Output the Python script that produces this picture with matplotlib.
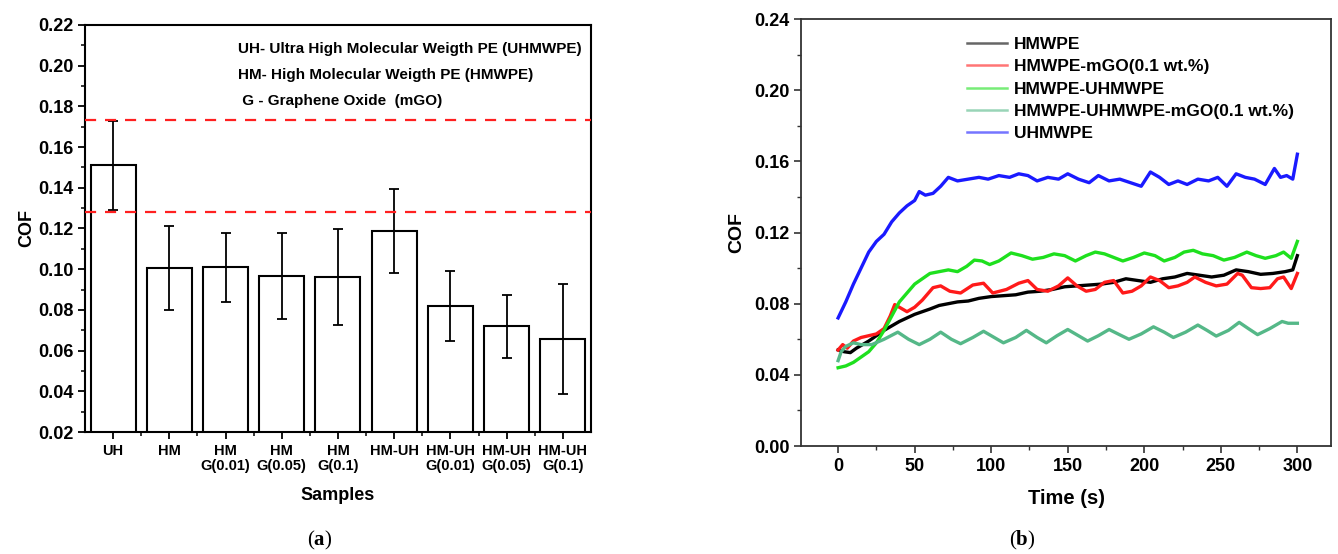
"""COF bar chart (a) and COF vs time curves (b) for PE blends."""

import matplotlib
matplotlib.use('Agg')
import matplotlib.pyplot as plt
from matplotlib.ticker import MultipleLocator, FixedLocator

plt.rcParams['font.family'] = ['Liberation Sans', 'DejaVu Sans']
plt.rcParams['font.weight'] = 'bold'
plt.rcParams['mathtext.fontset'] = 'custom'
plt.rcParams['mathtext.rm'] = 'Liberation Serif'
plt.rcParams['mathtext.bf'] = 'Liberation Serif:bold'

# ---- panel (a): mean COF per sample ----
samples = ['UH', 'HM', 'HM\nG(0.01)', 'HM\nG(0.05)', 'HM\nG(0.1)', 'HM-UH',
           'HM-UH\nG(0.01)', 'HM-UH\nG(0.05)', 'HM-UH\nG(0.1)']
cof_mean = [0.151, 0.1006, 0.101, 0.0966, 0.0961, 0.1187, 0.082, 0.072, 0.0657]
cof_err = [0.022, 0.0205, 0.0169, 0.0213, 0.0237, 0.0208, 0.0172, 0.0154, 0.0269]
ref_lines = [0.1735, 0.1283]
notes = ['UH- Ultra High Molecular Weigth PE (UHMWPE)',
         'HM- High Molecular Weigth PE (HMWPE)',
         ' G - Graphene Oxide  (mGO)']
note_y = [0.2082, 0.1953, 0.1827]

# ---- panel (b): COF vs time ----
t_black = [0, 4, 8, 12, 16, 20, 25, 30, 35, 40, 45, 50, 55, 60, 66, 72, 78, 85, 92, 100,
           108, 116, 124, 132, 140, 148, 156, 164, 172, 180, 188, 196, 204, 212, 220,
           228, 236, 244, 252, 260, 268, 276, 284, 292, 297, 300]
cof_black = [0.054, 0.053, 0.0525, 0.055, 0.057, 0.059, 0.062, 0.065, 0.0675, 0.070,
             0.072, 0.074, 0.0755, 0.077, 0.079, 0.080, 0.081, 0.0815, 0.083, 0.084,
             0.0845, 0.085, 0.0865, 0.087, 0.088, 0.0895, 0.090, 0.0905, 0.091, 0.092,
             0.094, 0.093, 0.092, 0.094, 0.095, 0.097, 0.096, 0.095, 0.096, 0.099,
             0.098, 0.0965, 0.097, 0.098, 0.099, 0.107]

t_red = [0, 3, 6, 10, 15, 20, 25, 30, 34, 37, 41, 45, 50, 55, 62, 67, 73, 80, 88, 95,
         101, 110, 118, 124, 130, 137, 144, 150, 156, 162, 168, 174, 180, 186, 192, 198,
         204, 210, 216, 222, 228, 233, 240, 247, 254, 261, 264, 270, 276, 282, 287, 291,
         296, 300]
cof_red = [0.054, 0.057, 0.055, 0.059, 0.061, 0.062, 0.063, 0.066, 0.073, 0.0795,
           0.0775, 0.0755, 0.078, 0.082, 0.089, 0.090, 0.087, 0.086, 0.0905, 0.0915,
           0.086, 0.088, 0.0915, 0.093, 0.088, 0.087, 0.090, 0.0945, 0.090, 0.087,
           0.088, 0.092, 0.093, 0.086, 0.087, 0.090, 0.095, 0.093, 0.089, 0.090,
           0.092, 0.095, 0.092, 0.090, 0.091, 0.097, 0.096, 0.089, 0.0885, 0.089,
           0.094, 0.095, 0.0885, 0.097]

t_green = [0, 5, 10, 15, 20, 25, 30, 35, 40, 45, 50, 55, 60, 66, 72, 78, 84, 89, 94, 99,
           105, 113, 120, 127, 134, 141, 148, 155, 162, 168, 174, 180, 186, 193, 200,
           207, 213, 220, 226, 232, 238, 245, 252, 259, 267, 273, 279, 286, 291, 296, 300]
cof_green = [0.044, 0.045, 0.047, 0.050, 0.053, 0.058, 0.065, 0.073, 0.081, 0.086,
             0.091, 0.094, 0.097, 0.098, 0.099, 0.098, 0.101, 0.1045, 0.104, 0.102,
             0.104, 0.1085, 0.107, 0.105, 0.106, 0.108, 0.107, 0.104, 0.107, 0.109,
             0.108, 0.106, 0.104, 0.106, 0.1085, 0.107, 0.104, 0.106, 0.109, 0.110,
             0.108, 0.107, 0.1045, 0.106, 0.109, 0.107, 0.1055, 0.107, 0.109, 0.1055,
             0.115]

t_teal = [0, 2, 5, 10, 15, 22, 30, 39, 46, 53, 60, 67, 74, 80, 88, 95, 102, 108, 116, 123,
          130, 136, 143, 150, 157, 163, 170, 177, 184, 190, 198, 206, 213, 219, 227, 235,
          241, 247, 255, 262, 268, 274, 282, 290, 294, 300]
cof_teal = [0.048, 0.053, 0.056, 0.058, 0.057, 0.057, 0.060, 0.064, 0.060, 0.057,
            0.060, 0.064, 0.060, 0.0575, 0.061, 0.0645, 0.061, 0.058, 0.061, 0.065,
            0.061, 0.058, 0.062, 0.0655, 0.062, 0.059, 0.062, 0.0655, 0.0625, 0.060,
            0.063, 0.067, 0.064, 0.061, 0.064, 0.068, 0.065, 0.0618, 0.065, 0.0695,
            0.066, 0.0626, 0.066, 0.070, 0.069, 0.069]

t_blue = [0, 5, 10, 15, 20, 25, 30, 35, 40, 45, 50, 53, 57, 62, 67, 72, 78, 85, 92, 98,
          105, 112, 118, 124, 130, 137, 144, 150, 157, 164, 170, 177, 184, 191, 198, 204,
          210, 216, 222, 228, 235, 242, 248, 254, 260, 266, 272, 279, 285, 289, 293, 297,
          300]
cof_blue = [0.072, 0.081, 0.091, 0.100, 0.109, 0.115, 0.119, 0.126, 0.131, 0.135,
            0.138, 0.143, 0.141, 0.142, 0.146, 0.151, 0.149, 0.150, 0.151, 0.150,
            0.152, 0.151, 0.153, 0.152, 0.149, 0.151, 0.150, 0.153, 0.150, 0.148,
            0.152, 0.149, 0.150, 0.148, 0.146, 0.154, 0.151, 0.147, 0.149, 0.147,
            0.150, 0.149, 0.151, 0.146, 0.153, 0.151, 0.150, 0.147, 0.156, 0.151,
            0.152, 0.150, 0.164]

series = [
    ('HMWPE', t_black, cof_black, 'black'),
    ('HMWPE-mGO(0.1 wt.%)', t_red, cof_red, '#ff1a1a'),
    ('HMWPE-UHMWPE', t_green, cof_green, '#1ee01e'),
    ('HMWPE-UHMWPE-mGO(0.1 wt.%)', t_teal, cof_teal, '#55b888'),
    ('UHMWPE', t_blue, cof_blue, '#1a1aff'),
]


def main():
    fig = plt.figure(figsize=(13.38, 5.54), dpi=100)

    # ---------------- (a) ----------------
    ax = fig.add_axes([0.0635, 0.2202, 0.3782, 0.7347])
    pos = list(range(1, len(samples) + 1))
    ax.bar(pos, cof_mean, width=0.8, color='white', edgecolor='black',
           linewidth=1.5, zorder=2)
    ax.errorbar(pos, cof_mean, yerr=cof_err, fmt='none', ecolor='black',
                elinewidth=1.3, capsize=3.5, capthick=1.3, zorder=3)
    for y in ref_lines:
        ax.axhline(y, color='#ff2020', lw=1.6, ls=(0, (5, 4)), zorder=4)
    for txt, y in zip(notes, note_y):
        ax.text(0.303, y, txt, transform=ax.get_yaxis_transform(),
                fontsize=11, fontweight='bold', va='center', ha='left')

    ax.set_xlim(0.5, 9.5)
    ax.set_ylim(0.02, 0.22)
    ax.set_xticks(pos)
    ax.set_xticklabels(samples, fontsize=10.5, fontweight='bold', linespacing=1.1)
    ax.xaxis.set_minor_locator(FixedLocator([p + 0.5 for p in pos[:-1]]))
    ax.yaxis.set_major_locator(MultipleLocator(0.02))
    ax.yaxis.set_minor_locator(MultipleLocator(0.01))
    ax.set_yticklabels([f'{v:.2f}' for v in ax.get_yticks()],
                       fontsize=13, fontweight='bold')
    ax.set_ylim(0.02, 0.22)
    ax.tick_params(which='major', direction='out', length=5, width=1.3)
    ax.tick_params(which='minor', direction='out', length=3, width=1.1)
    ax.tick_params(top=False, right=False)
    for s in ax.spines.values():
        s.set_linewidth(1.5)
    ax.set_ylabel('COF', fontsize=13, fontweight='bold', labelpad=2)
    ax.set_xlabel('Samples', fontsize=13, fontweight='bold', labelpad=10)

    # ---------------- (b) ----------------
    bx = fig.add_axes([0.5987, 0.1949, 0.3961, 0.7708])
    for label, t, c, col in series:
        bx.plot(t, c, color=col, lw=2.4, label=label)
    bx.set_xlim(-24.2, 322)
    bx.set_ylim(0, 0.24)
    bx.xaxis.set_minor_locator(MultipleLocator(25))
    bx.yaxis.set_minor_locator(MultipleLocator(0.02))
    bx.set_xticks([0, 50, 100, 150, 200, 250, 300])
    bx.set_xticklabels([str(v) for v in [0, 50, 100, 150, 200, 250, 300]],
                       fontsize=13, fontweight='bold')
    bx.set_yticks([0, 0.04, 0.08, 0.12, 0.16, 0.20, 0.24])
    bx.set_yticklabels(['0.00', '0.04', '0.08', '0.12', '0.16', '0.20', '0.24'],
                       fontsize=13, fontweight='bold')
    bx.tick_params(which='major', direction='out', length=5, width=1.2, color='#333333')
    bx.tick_params(which='minor', direction='out', length=3, width=1.0, color='#333333')
    for s in bx.spines.values():
        s.set_linewidth(1.3)
        s.set_color('#333333')
    bx.set_ylabel('COF', fontsize=14, fontweight='bold', labelpad=6)
    bx.set_xlabel('Time (s)', fontsize=14.5, fontweight='bold', labelpad=10)
    leg = bx.legend(loc='upper left', bbox_to_anchor=(0.314, 0.958), frameon=False,
                    borderaxespad=0, borderpad=0, fontsize=12.5,
                    handlelength=2.3, handletextpad=0.4, labelspacing=0.41)
    for txt in leg.get_texts():
        txt.set_fontweight('bold')
    for ln in leg.get_lines():
        ln.set_linewidth(1.8)
        ln.set_alpha(0.6)

    fig.text(320 / 1338, 1 - 540 / 554, r'($\mathbf{a}$)', fontsize=15,
             ha='center', va='center', family='Liberation Serif', fontweight='normal')
    fig.text(1022 / 1338, 1 - 540 / 554, r'($\mathbf{b}$)', fontsize=15,
             ha='center', va='center', family='Liberation Serif', fontweight='normal')

    fig.savefig('out.png', dpi=100)


if __name__ == '__main__':
    main()
